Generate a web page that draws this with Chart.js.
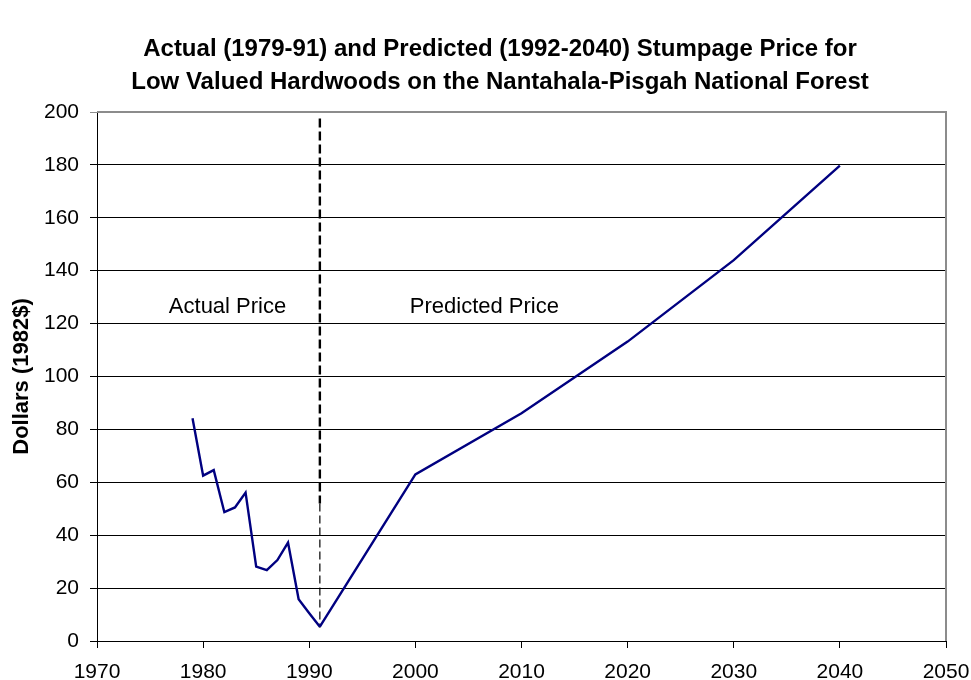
<!DOCTYPE html>
<html>
<head>
<meta charset="utf-8">
<script src="https://cdn.jsdelivr.net/npm/chart.js@4.4.1/dist/chart.umd.min.js"></script>
<style>
  html, body { margin: 0; padding: 0; background: #fff; }
</style>
</head>
<body>
<canvas id="graficoPreco" width="971" height="680"></canvas>
<script>
const linhasTitulo = [
  "Actual (1979-91) and Predicted (1992-2040) Stumpage Price for",
  "Low Valued Hardwoods on the Nantahala-Pisgah National Forest",
];
const tituloEixoY = "Dollars (1982$)";

const anosReais = [1979, 1980, 1981, 1982, 1983, 1984, 1985, 1986, 1987, 1988, 1989, 1990, 1991];
const precosReais = [84.2, 62.5, 64.6, 48.7, 50.5, 56.1, 28.1, 26.8, 30.6, 37.2, 15.8, 10.5, 5.4];

const anosPrevistos = [1991, 2000, 2010, 2020, 2030, 2040];
const precosPrevistos = [5.4, 63, 86.1, 113.2, 144, 179.7];

// linha tracejada que separa o real do previsto
const anoDivisao = 1991;
const divisaoGrossa = [197.5, 52];
const divisaoFina = [52, 5];

const rotulosTexto = ["Actual Price", "Predicted Price"];
const rotulosAno = [1982.3, 2006.5];
const rotulosValor = [126.3, 126.3];

const fonteBase = "'Liberation Sans', Arial, sans-serif";

const paraPontos = (xs, ys) => xs.map((x, i) => ({ x, y: ys[i] }));

const pluginExtras = {
  id: "extras",
  beforeDatasetsDraw(chart) {
    const { ctx, chartArea } = chart;
    ctx.save();
    ctx.strokeStyle = "#8c8c8c";
    ctx.lineWidth = 2;
    ctx.beginPath();
    ctx.moveTo(chartArea.left, chartArea.top);
    ctx.lineTo(chartArea.right, chartArea.top);
    ctx.lineTo(chartArea.right, chartArea.bottom);
    ctx.stroke();
    ctx.restore();
  },
  afterDraw(chart) {
    const { ctx, scales } = chart;
    ctx.save();
    ctx.fillStyle = "#000";
    ctx.textAlign = "center";
    ctx.textBaseline = "middle";

    ctx.font = `bold 24px ${fonteBase}`;
    linhasTitulo.forEach((linha, i) => ctx.fillText(linha, 500, 49 + i * 33));

    ctx.font = `22px ${fonteBase}`;
    rotulosTexto.forEach((texto, i) => {
      ctx.fillText(
        texto,
        scales.x.getPixelForValue(rotulosAno[i]),
        scales.y.getPixelForValue(rotulosValor[i]),
      );
    });
    ctx.restore();
  },
};

const corSerie = "#000080";

new Chart(document.getElementById("graficoPreco"), {
  type: "line",
  data: {
    datasets: [
      {
        data: paraPontos(anosReais, precosReais),
        borderColor: corSerie,
        borderWidth: 2.4,
      },
      {
        data: paraPontos(anosPrevistos, precosPrevistos),
        borderColor: corSerie,
        borderWidth: 2.4,
      },
      {
        data: paraPontos([anoDivisao, anoDivisao], divisaoGrossa),
        borderColor: "#000",
        borderWidth: 2.4,
        borderDash: [9, 4],
      },
      {
        data: paraPontos([anoDivisao, anoDivisao], divisaoFina),
        borderColor: "#000",
        borderWidth: 1.2,
        borderDash: [8, 4],
      },
    ],
  },
  options: {
    responsive: false,
    animation: false,
    layout: { padding: { top: 112, right: 25, bottom: 0, left: 0 } },
    elements: {
      point: { radius: 0 },
      line: { tension: 0, fill: false },
    },
    plugins: {
      legend: { display: false },
      tooltip: { enabled: false },
      title: { display: false },
    },
    scales: {
      x: {
        type: "linear",
        min: 1970,
        max: 2050,
        afterFit: (escala) => {
          escala.height = 39;
          escala.paddingLeft = 0;
          escala.paddingRight = 0;
        },
        border: { color: "#000", width: 1 },
        grid: { drawOnChartArea: false, drawTicks: true, tickLength: 7, color: "#000" },
        ticks: {
          stepSize: 10,
          padding: 12,
          color: "#000",
          font: { family: fonteBase, size: 21 },
          callback: (v) => String(v),
        },
      },
      y: {
        min: 0,
        max: 200,
        afterFit: (escala) => {
          escala.width = 97;
          escala.paddingTop = 0;
          escala.paddingBottom = 0;
        },
        border: { color: "#000", width: 1 },
        grid: {
          color: (c) => (c.tick && c.tick.value === 200 ? "#8c8c8c" : "#000"),
          tickLength: 7,
        },
        ticks: {
          stepSize: 20,
          padding: 11,
          color: "#000",
          font: { family: fonteBase, size: 21 },
        },
        title: {
          display: true,
          text: tituloEixoY,
          color: "#000",
          font: { family: fonteBase, size: 22, weight: "bold" },
          padding: { top: 9, bottom: 0 },
        },
      },
    },
  },
  plugins: [pluginExtras],
});
</script>
</body>
</html>
